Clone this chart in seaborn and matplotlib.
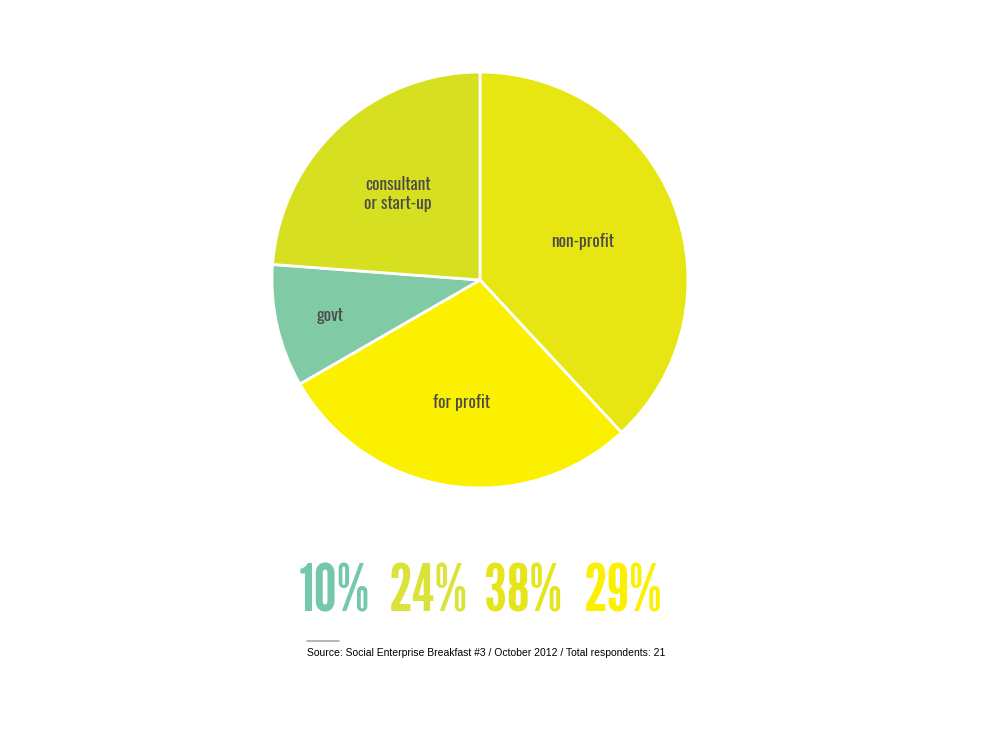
import matplotlib
matplotlib.use('Agg')
import matplotlib.pyplot as plt
import seaborn as sns
import numpy as np

# survey data: respondents per sector
sectors = ['non-profit', 'for profit', 'govt', 'consultant\nor start-up']
counts = [8, 6, 2, 5]
colors = ['#E7E613', '#FBF000', '#80CBA5', '#D7E020']

# percentages shown under the pie, in this order
pct_order = ['govt', 'consultant\nor start-up', 'non-profit', 'for profit']
pct_colors = ['#72C8A8', '#DBE23A', '#E6E41A', '#FAF000']

source_text = 'Source: Social Enterprise Breakfast #3 / October 2012 / Total respondents: 21'

sns.set_theme(style='white')
gothic = ['League Gothic', 'Oswald', 'Roboto Condensed', 'Roboto']
label_fam = ['Oswald', 'League Gothic', 'Roboto Condensed', 'Roboto']

fig = plt.figure(figsize=(9.84, 7.33), dpi=100)
fig.patch.set_facecolor('white')

ax = fig.add_axes([272 / 984, 1 - 488 / 733, 416 / 984, 416 / 733])
wedges, _ = ax.pie(counts, colors=colors, startangle=90, counterclock=False,
                   wedgeprops=dict(edgecolor='white', linewidth=2))
ax.set_aspect('equal')
ax.set_xlim(-1, 1)
ax.set_ylim(-1, 1)
ax.axis('off')

# labels at wedge mid-angle, distance tuned per wedge
label_dist = [0.53, 0.59, 0.74, 0.58]
for w, name, d in zip(wedges, sectors, label_dist):
    ang = np.deg2rad((w.theta1 + w.theta2) / 2)
    ax.text(d * np.cos(ang), d * np.sin(ang), name, ha='center', va='center_baseline',
            color='#4A4A4A', family=label_fam, weight='bold', fontsize=12.5,
            linespacing=1.15)

# big percentages
total = sum(counts)
pct_x = [334, 428, 523, 623]
for name, c, x in zip(pct_order, pct_colors, pct_x):
    pct = round(100 * counts[sectors.index(name)] / total)
    fig.text(x / 984, 1 - 612 / 733, f'{pct}%', ha='center', va='baseline',
             color=c, family=gothic, fontsize=47)

# source note
fig.add_artist(plt.Line2D([307 / 984, 339 / 984], [1 - 641 / 733] * 2,
                          color='#AAAAAA', linewidth=1.2))
fig.text(307 / 984, 1 - 653 / 733, source_text, ha='left', va='center',
         color='black', family='Liberation Sans', fontsize=7.5)

fig.savefig('out.png', dpi=100, facecolor='white')
